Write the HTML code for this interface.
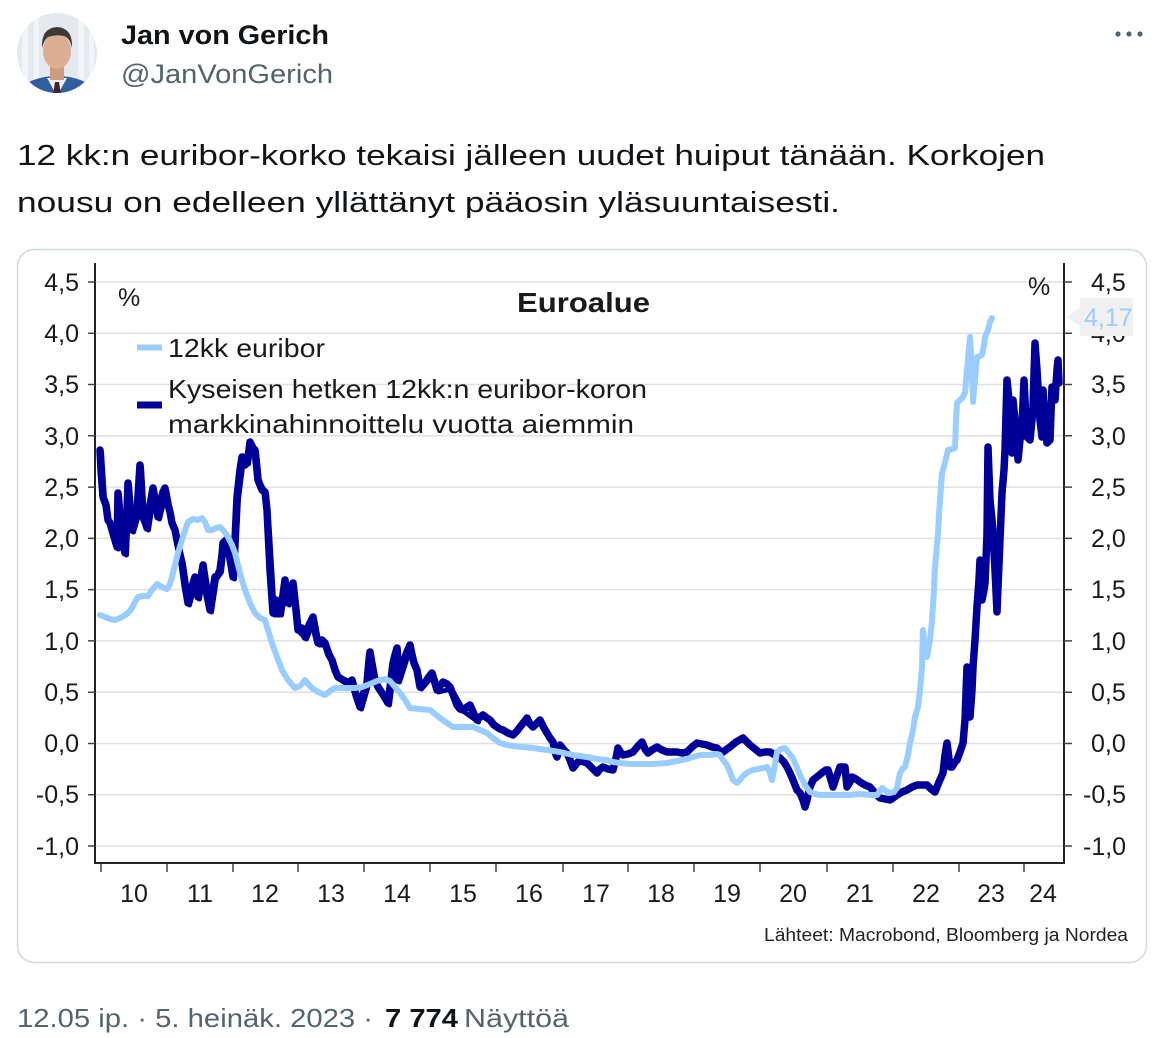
<!DOCTYPE html>
<html><head><meta charset="utf-8"><style>
html,body{margin:0;padding:0;background:#fff;}
svg{display:block;}
text{font-family:"Liberation Sans",Arial,sans-serif;}
</style></head><body>
<svg width="1163" height="1038" viewBox="0 0 1163 1038" xmlns="http://www.w3.org/2000/svg">
<rect width="1163" height="1038" fill="#fff"/>
<defs><clipPath id="av"><circle cx="57" cy="53" r="40"/></clipPath></defs>
<g clip-path="url(#av)">
<rect x="17" y="13" width="80" height="80" fill="#e3e9ee"/>
<rect x="22" y="13" width="6" height="80" fill="#f2f5f7"/>
<rect x="34" y="13" width="5" height="80" fill="#f2f5f7"/>
<rect x="78" y="13" width="6" height="80" fill="#f2f5f7"/>
<rect x="89" y="13" width="5" height="80" fill="#f2f5f7"/>
<ellipse cx="57" cy="102" rx="44" ry="26" fill="#2f5f9e"/>
<polygon points="47,78 67,78 57,96" fill="#f1f1f4"/>
<polygon points="55,82 59,82 61,95 53,95" fill="#4a2030"/>
<rect x="50" y="64" width="14" height="16" fill="#cf9c80"/>
<ellipse cx="57" cy="51" rx="14" ry="18" fill="#dcae93"/>
<path d="M42,48 Q41,28 57,27 Q73,28 72,48 Q70,38 64,36 Q56,34 48,37 Q44,40 42,48Z" fill="#3b3835"/>
</g>
<text x="121" y="44" font-size="27" font-weight="bold" fill="#0f1419" textLength="208" lengthAdjust="spacingAndGlyphs">Jan von Gerich</text>
<text x="121" y="83" font-size="27" fill="#536471" textLength="212" lengthAdjust="spacingAndGlyphs">@JanVonGerich</text>
<circle cx="1118" cy="34" r="2.6" fill="#536471"/>
<circle cx="1129" cy="34" r="2.6" fill="#536471"/>
<circle cx="1140" cy="34" r="2.6" fill="#536471"/>
<text x="17" y="165" font-size="29" fill="#0f1419" textLength="1028" lengthAdjust="spacingAndGlyphs">12 kk:n euribor-korko tekaisi jälleen uudet huiput tänään. Korkojen</text>
<text x="17" y="212" font-size="29" fill="#0f1419" textLength="823" lengthAdjust="spacingAndGlyphs">nousu on edelleen yllättänyt pääosin yläsuuntaisesti.</text>

<rect x="17.5" y="249.5" width="1129" height="713" rx="17" fill="#fff" stroke="#cfd9de" stroke-width="1.5"/>

<g stroke="#e0e0e0" stroke-width="1.5">
<line x1="95" x2="1063" y1="282" y2="282"/>
<line x1="95" x2="1063" y1="333.3" y2="333.3"/>
<line x1="95" x2="1063" y1="384.5" y2="384.5"/>
<line x1="95" x2="1063" y1="435.8" y2="435.8"/>
<line x1="95" x2="1063" y1="487.1" y2="487.1"/>
<line x1="95" x2="1063" y1="538.4" y2="538.4"/>
<line x1="95" x2="1063" y1="589.6" y2="589.6"/>
<line x1="95" x2="1063" y1="640.9" y2="640.9"/>
<line x1="95" x2="1063" y1="692.2" y2="692.2"/>
<line x1="95" x2="1063" y1="743.5" y2="743.5"/>
<line x1="95" x2="1063" y1="794.7" y2="794.7"/>
<line x1="95" x2="1063" y1="846" y2="846"/>
</g>
<g stroke="#222" stroke-width="2">
<line x1="95" x2="95" y1="263" y2="864"/>
<line x1="1064" x2="1064" y1="263" y2="864"/>
<line x1="94" x2="1065" y1="863" y2="863"/>
</g>
<g stroke="#444" stroke-width="1.5">
<path d="M88,282H95M88,333.3H95M88,384.5H95M88,435.8H95M88,487.1H95M88,538.4H95M88,589.6H95M88,640.9H95M88,692.2H95M88,743.5H95M88,794.7H95M88,846H95"/>
<path d="M1064,282H1072M1064,333.3H1072M1064,384.5H1072M1064,435.8H1072M1064,487.1H1072M1064,538.4H1072M1064,589.6H1072M1064,640.9H1072M1064,692.2H1072M1064,743.5H1072M1064,794.7H1072M1064,846H1072"/>
<path d="M101,864V872M167,864V872M233,864V872M298,864V872M364,864V872M430,864V872M496,864V872M563,864V872M628,864V872M694,864V872M760,864V872M827,864V872M893,864V872M959,864V872M1024,864V872"/>
</g>
<g font-size="25" fill="#1a1a1a" text-anchor="end">
<text x="79" y="291">4,5</text>
<text x="79" y="342">4,0</text>
<text x="79" y="393">3,5</text>
<text x="79" y="445">3,0</text>
<text x="79" y="496">2,5</text>
<text x="79" y="547">2,0</text>
<text x="79" y="598">1,5</text>
<text x="79" y="650">1,0</text>
<text x="79" y="701">0,5</text>
<text x="79" y="752">0,0</text>
<text x="79" y="803">-0,5</text>
<text x="79" y="855">-1,0</text>
</g>
<g font-size="25" fill="#1a1a1a">
<text x="1091" y="291">4,5</text>
<text x="1091" y="342">4,0</text>
<text x="1091" y="393">3,5</text>
<text x="1091" y="445">3,0</text>
<text x="1091" y="496">2,5</text>
<text x="1091" y="547">2,0</text>
<text x="1091" y="598">1,5</text>
<text x="1091" y="650">1,0</text>
<text x="1091" y="701">0,5</text>
<text x="1091" y="752">0,0</text>
<text x="1083" y="803">-0,5</text>
<text x="1083" y="855">-1,0</text>
</g>
<g font-size="25" fill="#1a1a1a" text-anchor="middle">
<text x="134" y="902">10</text>
<text x="200" y="902">11</text>
<text x="265" y="902">12</text>
<text x="331" y="902">13</text>
<text x="397" y="902">14</text>
<text x="463" y="902">15</text>
<text x="529" y="902">16</text>
<text x="596" y="902">17</text>
<text x="661" y="902">18</text>
<text x="727" y="902">19</text>
<text x="793" y="902">20</text>
<text x="860" y="902">21</text>
<text x="926" y="902">22</text>
<text x="991" y="902">23</text>
<text x="1043" y="902">24</text>
</g>

<!-- dark blue series (thickening offset copy for noisy look) -->
<polyline fill="none" stroke="#000099" stroke-width="5" stroke-linejoin="round" stroke-linecap="round" transform="translate(1.5,2)" points="100,450 103,497 108,520 112,530 117,547 118,493 122,540 125,553 128,483 132,530 137,513 140,465 143,517 147,528 153,488 158,517 165,488 172,523 177,540 182,563 188,603 195,577 198,597 203,565 210,610 215,577 220,570 223,543 228,547 233,577 237,497 242,457 247,462 250,442 255,450 258,480 265,492 268,530 273,613 280,613 285,580 288,603 293,583 298,630 305,637 313,617 318,643 325,643 332,660 338,677 352,680 360,707 367,683 370,652 375,680 382,693 388,703 393,663 397,648 398,680 407,652 410,645 414,663 420,687 432,673 437,690 450,687 463,710 477,720"/>
<polyline fill="none" stroke="#000099" stroke-width="7.5" stroke-linejoin="round" stroke-linecap="round" points="100,450 101,470 103,497 106,505 108,520 110,523 112,530 115,540 117,547 118,493 120,520 122,540 125,553 127,510 128,483 130,510 132,530 135,520 137,513 139,480 140,465 142,500 143,517 145,522 147,528 150,505 153,488 156,505 158,517 161,500 163,492 165,488 168,505 170,512 172,523 175,530 177,540 180,555 182,563 185,585 188,603 191,590 195,577 198,597 200,585 203,565 206,590 210,610 213,590 215,577 218,575 220,570 222,555 223,543 226,540 228,547 231,565 233,577 235,540 237,497 240,470 242,457 245,465 247,462 249,450 250,442 253,448 255,450 257,470 258,480 262,490 265,492 267,510 268,530 270,570 273,613 276,600 280,613 283,595 285,580 287,595 288,603 291,590 293,583 296,610 298,630 302,628 305,637 309,625 313,617 316,635 318,643 322,640 325,643 329,655 332,660 335,670 338,677 343,680 348,683 352,680 356,695 360,707 363,695 367,683 369,660 370,652 372,665 375,680 378,687 382,693 385,698 388,703 391,680 393,663 395,655 397,648 398,680 401,670 404,660 407,652 410,645 412,655 414,663 417,670 420,687 423,685 425,683 428,678 432,673 435,683 437,690 440,686 443,682 447,684 450,687 454,697 457,705 460,709 463,710 467,707 470,705 474,714 477,720 480,717 483,715 487,718 490,720 494,725 497,727 500,729 503,730 508,733 513,735 517,731 520,727 524,722 527,718 530,724 533,727 537,723 540,720 544,728 547,733 550,738 553,742 555,752 557,757 559,750 560,745 564,750 567,753 570,760 573,768 577,763 580,760 584,762 587,763 592,768 597,773 600,769 603,767 608,769 613,770 616,758 618,748 621,753 623,755 628,754 633,752 638,746 642,742 645,749 648,753 652,750 657,747 662,750 667,752 672,752 677,752 682,753 687,752 692,747 697,743 702,744 707,745 712,747 717,748 720,751 723,752 727,749 730,747 736,742 743,738 747,742 750,745 755,749 760,753 765,752 770,752 775,755 780,758 784,762 787,767 790,773 793,780 797,790 800,793 803,800 805,807 807,800 808,795 810,787 813,780 818,776 823,772 826,770 828,770 831,780 833,787 836,778 840,767 843,767 845,767 847,787 850,782 852,777 856,779 860,782 865,785 870,787 875,793 880,798 885,799 890,800 893,798 897,795 902,792 907,790 912,787 917,785 922,785 927,785 931,789 935,792 939,782 943,773 945,755 947,743 950,767 952,767 955,762 957,760 960,752 963,743 965,720 967,667 969,700 970,717 972,690 973,667 975,640 977,607 979,580 980,560 982,600 984,590 985,583 986,560 987,533 988,447 990,500 992,520 993,533 995,570 997,612 998,587 1000,540 1002,493 1004,470 1005,450 1007,380 1009,400 1010,410 1012,453 1013,400 1015,420 1017,430 1018,460 1020,440 1022,427 1024,380 1026,420 1027,437 1030,440 1032,420 1033,407 1035,343 1037,370 1038,387 1040,420 1042,437 1043,390 1045,420 1047,443 1050,440 1052,387 1054,395 1055,400 1057,370 1058,360 1059,383"/>
<!-- light blue series -->
<polyline fill="none" stroke="#99ccff" stroke-width="6" stroke-linejoin="round" stroke-linecap="round" points="100,615 105,617 110,619 115,620 120,618 125,615 128,613 132,608 135,602 138,597 143,596 148,596 152,590 157,584 162,587 167,589 170,584 172,577 175,565 178,553 182,540 185,530 188,522 193,519 198,520 202,518 205,522 208,530 212,530 216,528 220,527 224,531 228,537 232,545 235,553 238,565 242,580 245,590 250,603 255,613 260,618 265,620 268,630 272,643 277,657 282,670 288,680 295,688 300,686 305,680 308,684 312,688 318,692 325,695 330,691 335,688 345,688 355,688 362,687 370,684 377,681 385,679 390,681 395,687 400,693 405,700 410,708 420,709 430,710 435,714 440,718 447,723 453,727 463,727 473,727 480,730 487,733 493,738 500,743 507,745 513,746 523,747 533,748 547,750 560,752 573,755 587,757 597,759 607,760 613,762 620,763 630,764 640,764 653,764 667,763 677,761 687,759 693,757 700,755 710,755 717,754 720,755 723,760 727,765 730,772 733,780 737,783 740,780 743,776 748,772 753,770 758,769 763,768 767,767 770,773 772,780 774,770 777,752 781,749 785,748 788,752 792,757 796,765 800,775 805,785 810,792 815,794 820,795 830,795 840,795 850,795 860,794 870,795 877,795 882,788 886,791 890,793 894,792 897,788 900,773 903,768 905,767 908,755 910,743 913,730 915,717 918,707 920,690 922,667 923,630 925,650 927,657 930,640 932,620 934,590 935,567 937,545 938,533 939,515 940,500 942,473 945,463 948,450 952,449 955,448 956,420 957,403 960,400 962,398 965,393 967,370 970,337 972,370 973,402 975,380 977,357 980,356 982,355 984,345 985,337 988,330 990,322 992,318"/>

<text x="118" y="306" font-size="25" fill="#1a1a1a">%</text>
<text x="1028" y="295" font-size="25" fill="#1a1a1a">%</text>
<text x="517" y="312" font-size="28" font-weight="bold" fill="#1a1a1a" textLength="133" lengthAdjust="spacingAndGlyphs">Euroalue</text>
<line x1="137" x2="162" y1="347.5" y2="347.5" stroke="#99ccff" stroke-width="6"/>
<text x="168" y="357" font-size="26" fill="#1a1a1a" textLength="157" lengthAdjust="spacingAndGlyphs">12kk euribor</text>
<line x1="137" x2="162" y1="405" y2="405" stroke="#000099" stroke-width="7"/>
<text x="168" y="398" font-size="26" fill="#1a1a1a" textLength="479" lengthAdjust="spacingAndGlyphs">Kyseisen hetken 12kk:n euribor-koron</text>
<text x="168" y="433" font-size="26" fill="#1a1a1a" textLength="466" lengthAdjust="spacingAndGlyphs">markkinahinnoittelu vuotta aiemmin</text>

<polygon points="1067,317 1081,307 1081,327" fill="#f0f0f0"/>
<rect x="1080" y="298" width="53" height="38" fill="#f0f0f0"/>
<text x="1084" y="326" font-size="25" fill="#99ccff">4,17</text>

<text x="764" y="941" font-size="18" fill="#222" textLength="364" lengthAdjust="spacingAndGlyphs">Lähteet: Macrobond, Bloomberg ja Nordea</text>

<text x="17" y="1027" font-size="26" fill="#536471" textLength="356" lengthAdjust="spacingAndGlyphs">12.05 ip. · 5. heinäk. 2023 ·</text>
<text x="385" y="1027" font-size="26" font-weight="bold" fill="#0f1419" textLength="73" lengthAdjust="spacingAndGlyphs">7 774</text>
<text x="464" y="1027" font-size="26" fill="#536471" textLength="105" lengthAdjust="spacingAndGlyphs">Näyttöä</text>
</svg>
</body></html>
